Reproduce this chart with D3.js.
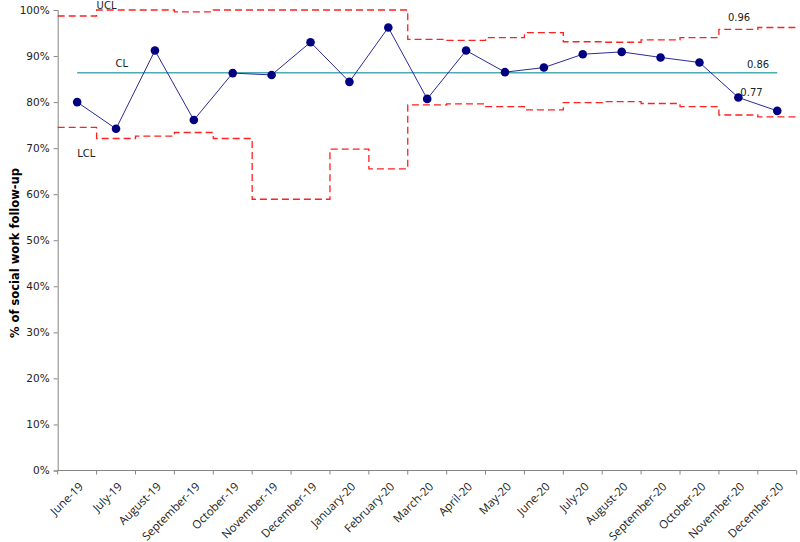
<!DOCTYPE html>
<html>
<head>
<meta charset="utf-8">
<script src="https://cdn.jsdelivr.net/npm/d3@7"></script>
<style>
  body { margin: 0; background: #fff; }
  svg { display: block; }
</style>
</head>
<body>
<div id="chart"></div>
<script>
const width = 800;
const height = 542;

const months = ["June-19", "July-19", "August-19", "September-19", "October-19", "November-19",
  "December-19", "January-20", "February-20", "March-20", "April-20", "May-20", "June-20",
  "July-20", "August-20", "September-20", "October-20", "November-20", "December-20"];

// % of social work follow-up
const values = [0.800, 0.742, 0.912, 0.761, 0.863, 0.859, 0.930, 0.844, 0.962, 0.807,
  0.912, 0.865, 0.875, 0.904, 0.909, 0.897, 0.886, 0.810, 0.781];

const ucl = [0.987, 1.0, 1.0, 0.996, 1.0, 1.0, 1.0, 1.0, 1.0, 0.936,
  0.934, 0.940, 0.951, 0.931, 0.930, 0.935, 0.940, 0.958, 0.962];

const lcl = [0.745, 0.721, 0.726, 0.734, 0.721, 0.589, 0.589, 0.698, 0.655, 0.794,
  0.796, 0.790, 0.783, 0.799, 0.801, 0.797, 0.790, 0.772, 0.768];

const cl = 0.864;

const yTicks = [0, 0.1, 0.2, 0.3, 0.4, 0.5, 0.6, 0.7, 0.8, 0.9, 1.0];

main();

function main() {
  const margin = {l: 57.7, r: 3.3, t: 10, b: 71.5};

  const svg = d3.select("#chart").append("svg")
    .attr("width", width)
    .attr("height", height);

  const x = d3.scaleBand().domain(months).range([margin.l, width - margin.r]);
  const y = d3.scaleLinear().domain([0, 1]).range([height - margin.b, margin.t]);
  const bw = x.bandwidth();
  const cx = m => x(m) + bw / 2;

  const axisColor = "#868686";
  const font = "DejaVu Sans, Verdana, sans-serif";

  // y axis
  const yAxis = svg.append("g")
    .attr("transform", `translate(${margin.l},0)`)
    .call(d3.axisLeft(y).tickValues(yTicks).tickFormat(d3.format(".0%")).tickSize(4).tickPadding(4));
  yAxis.select(".domain").attr("stroke", axisColor);
  yAxis.selectAll(".tick line").attr("stroke", axisColor);
  yAxis.selectAll(".tick text")
    .attr("fill", "#222")
    .style("font-family", font)
    .style("font-size", "10.5px");

  // x axis, ticks at band edges
  const xg = svg.append("g").attr("transform", `translate(0,${y(0)})`);
  xg.append("line")
    .attr("x1", margin.l).attr("x2", width - margin.r)
    .attr("stroke", axisColor);
  const edges = months.map(m => x(m)).concat([x(months[months.length - 1]) + bw]);
  xg.selectAll(".xt").data(edges).join("line")
    .attr("x1", d => d).attr("x2", d => d)
    .attr("y1", 0).attr("y2", 4)
    .attr("stroke", axisColor);
  xg.selectAll(".xl").data(months).join("text")
    .attr("transform", d => `translate(${cx(d) + 4},${14}) rotate(-45)`)
    .attr("text-anchor", "end")
    .attr("dy", "0.35em")
    .attr("fill", "#222")
    .style("font-family", "Open Sans, sans-serif")
    .style("font-size", "11.5px")
    .text(d => d);

  // y title
  svg.append("text")
    .attr("transform", `translate(19,253) rotate(-90)`)
    .attr("text-anchor", "middle")
    .style("font-family", font)
    .style("font-size", "11.5px")
    .style("font-weight", "bold")
    .text("% of social work follow-up");

  // control limits as steps across each month
  const stepLine = d3.line()
    .x(d => d[0])
    .y(d => y(d[1]))
    .curve(d3.curveStepAfter);
  const stepPts = arr => arr.map((v, i) => [x(months[i]), v])
    .concat([[x(months[months.length - 1]) + bw, arr[arr.length - 1]]]);

  for (let arr of [ucl, lcl]) {
    svg.append("path")
      .attr("d", stepLine(stepPts(arr)))
      .attr("fill", "none")
      .attr("stroke", "#ff2020")
      .attr("stroke-width", 1.3)
      .attr("stroke-dasharray", "7,4");
  }

  // centre line
  svg.append("line")
    .attr("x1", cx(months[0])).attr("x2", cx(months[months.length - 1]))
    .attr("y1", y(cl)).attr("y2", y(cl))
    .attr("stroke", "#4aacb0")
    .attr("stroke-width", 1.5);

  // data
  const line = d3.line()
    .x((d, i) => cx(months[i]))
    .y(d => y(d));
  svg.append("path")
    .attr("d", line(values))
    .attr("fill", "none")
    .attr("stroke", "#2a2a9a")
    .attr("stroke-width", 1);
  svg.selectAll(".dot").data(values).join("circle")
    .attr("cx", (d, i) => cx(months[i]))
    .attr("cy", d => y(d))
    .attr("r", 4.3)
    .attr("fill", "#000080");

  // labels
  const lab = (txt, px, py, anchor = "start") => svg.append("text")
    .attr("x", px).attr("y", py)
    .attr("text-anchor", anchor)
    .style("font-family", font)
    .style("font-size", "10px")
    .attr("fill", "#222")
    .text(txt);

  lab("UCL", x(months[1]), y(1.0) - 1);
  lab("CL", x(months[1]) + 19, y(cl) - 6);
  lab("LCL", cx(months[0]), y(lcl[1]) + 19);
  lab(d3.format(".2f")(ucl[17]), x(months[17]) + 9, y(ucl[17]) - 8);
  lab(d3.format(".2f")(cl), x(months[17]) + 28, y(cl) - 5);
  lab(d3.format(".2f")(lcl[17]), cx(months[17]) + 2, y(values[17]) - 1);
}
</script>
</body>
</html>
